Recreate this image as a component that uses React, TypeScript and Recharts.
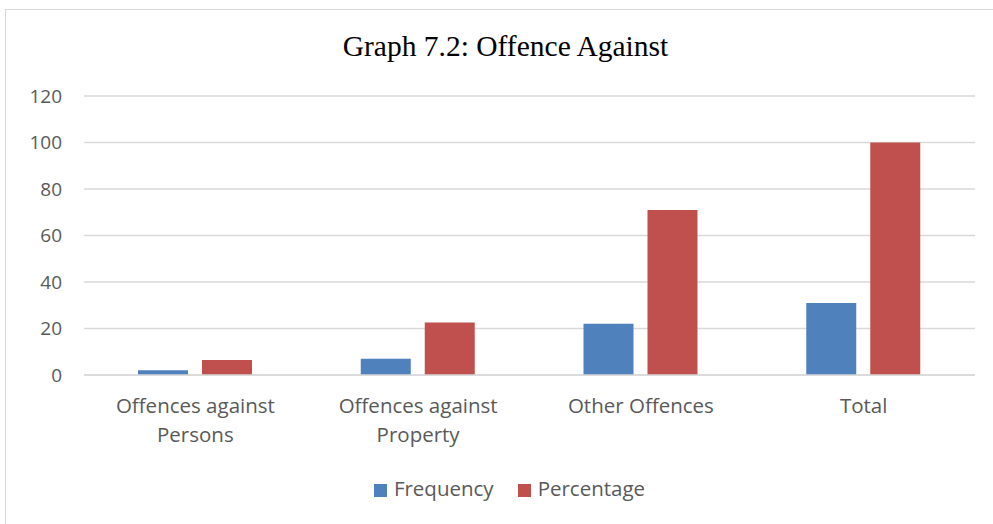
import React from "react";
import { BarChart, Bar, XAxis, YAxis, CartesianGrid, Legend } from "recharts";

const categories = ["Offences against Persons", "Offences against Property", "Other Offences", "Total"];
const frequency = [2, 7, 22, 31];
const percentage = [6.45, 22.58, 70.97, 100];
const yTicks = [0, 20, 40, 60, 80, 100, 120];

const data = categories.map((c, i) => ({ name: c, Frequency: frequency[i], Percentage: percentage[i] }));

const FONT = "'Open Sans', sans-serif";

const splitLabel = (s: string): string[] => {
  if (s.length <= 16) return [s];
  const idx = s.lastIndexOf(" ");
  return [s.slice(0, idx), s.slice(idx + 1)];
};

const XTick = (props: any) => {
  const { x, y, payload } = props;
  const lines = splitLabel(String(payload.value));
  return (
    <text x={x} y={y + 30} textAnchor="middle" fill="#595959" fontSize={20.5} fontFamily={FONT}>
      {lines.map((l, i) => (
        <tspan key={i} x={x} dy={i === 0 ? 0 : 29}>
          {l}
        </tspan>
      ))}
    </text>
  );
};

export default function App() {
  return (
    <div style={{ position: "absolute", left: 0, top: 0, width: 993, height: 524, background: "#fff", overflow: "hidden" }}>
      <div
        style={{
          position: "absolute",
          left: 5,
          top: 9,
          width: 1000,
          height: 530,
          border: "1px solid #d9d9d9",
          boxSizing: "border-box",
        }}
      />
      <div
        style={{
          position: "absolute",
          left: 0,
          top: 30,
          width: 1011,
          textAlign: "center",
          fontFamily: "'Liberation Serif', 'Times New Roman', serif",
          fontSize: 29.5,
          color: "#000",
        }}
      >
        Graph 7.2: Offence Against
      </div>
      <div style={{ position: "absolute", left: 0, top: 0 }}>
        <BarChart
          width={993}
          height={524}
          data={data}
          margin={{ top: 96, right: 18, left: 0, bottom: 10 }}
          barSize={50}
          barGap={14}
        >
          <CartesianGrid vertical={false} stroke="#d9d9d9" strokeWidth={1.5} />
          <XAxis
            dataKey="name"
            height={99}
            tick={<XTick />}
            tickLine={false}
            axisLine={{ stroke: "#d9d9d9", strokeWidth: 1.5 }}
            interval={0}
          />
          <YAxis
            width={84}
            domain={[0, 120]}
            ticks={yTicks}
            tickLine={false}
            axisLine={false}
            tickSize={0}
            tickMargin={22}
            tick={{ fill: "#595959", fontSize: 19, fontFamily: FONT }}
          />
          <Legend
            verticalAlign="bottom"
            height={40}
            iconType="square"
            iconSize={13}
            wrapperStyle={{ left: 34, fontFamily: FONT, fontSize: 20.5, color: "#595959" }}
            formatter={(v: string) => <span style={{ color: "#595959", marginLeft: 3, marginRight: 14 }}>{v}</span>}
          />
          <Bar dataKey="Frequency" fill="#4f81bd" isAnimationActive={false} />
          <Bar dataKey="Percentage" fill="#c0504d" isAnimationActive={false} />
        </BarChart>
      </div>
    </div>
  );
}
